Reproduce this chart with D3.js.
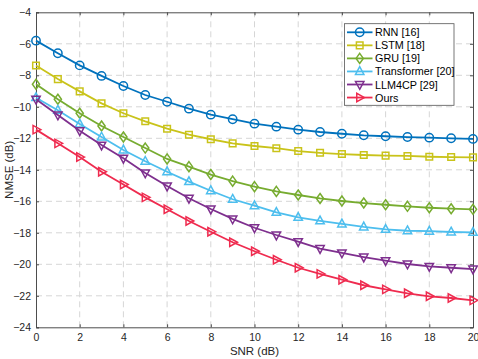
<!DOCTYPE html>
<html>
<head>
<meta charset="utf-8">
<script src="https://cdn.jsdelivr.net/npm/d3@7"></script>
<style>
  body { margin: 0; background: #fff; }
  text { font-family: "Liberation Sans", Arial, sans-serif; }
</style>
</head>
<body>
<div id="chart"></div>
<script>
const snr = d3.range(0, 21);
const rnn = [-5.8,-6.6,-7.37,-8.04,-8.68,-9.25,-9.68,-10.12,-10.5,-10.79,-11.07,-11.26,-11.45,-11.6,-11.71,-11.81,-11.87,-11.92,-11.96,-12.0,-12.04];
const lstm = [-7.38,-8.24,-9.02,-9.78,-10.41,-10.92,-11.39,-11.77,-12.06,-12.32,-12.49,-12.63,-12.81,-12.92,-13.0,-13.06,-13.1,-13.12,-13.17,-13.19,-13.21];
const gru = [-8.57,-9.52,-10.41,-11.22,-11.92,-12.62,-13.31,-13.8,-14.3,-14.72,-15.07,-15.37,-15.6,-15.82,-15.98,-16.11,-16.22,-16.32,-16.41,-16.47,-16.51];
const transformer = [-9.42,-10.22,-11.09,-11.92,-12.74,-13.46,-14.12,-14.75,-15.33,-15.87,-16.28,-16.7,-17.02,-17.24,-17.44,-17.63,-17.78,-17.87,-17.9,-17.95,-17.97];
const llm4cp = [-9.52,-10.52,-11.52,-12.43,-13.27,-14.2,-15.03,-15.81,-16.49,-17.12,-17.68,-18.14,-18.56,-19.0,-19.28,-19.54,-19.77,-19.98,-20.13,-20.22,-20.3];
const ours = [-11.45,-12.32,-13.19,-14.12,-14.93,-15.75,-16.51,-17.25,-17.93,-18.6,-19.17,-19.71,-20.22,-20.61,-20.98,-21.33,-21.59,-21.84,-22.03,-22.14,-22.29];

const names = ["RNN [16]", "LSTM [18]", "GRU [19]", "Transformer [20]", "LLM4CP [29]", "Ours"];
const colors = ["#0072BD", "#C9C31A", "#77AC30", "#4DBEEE", "#7E2F8E", "#EF2B4F"];
const markers = ["circle", "square", "diamond", "up", "down", "right"];
const allSeries = [rnn, lstm, gru, transformer, llm4cp, ours];
const xTicks = d3.range(0, 21, 2);
const yTicks = d3.range(-24, -3, 2);

const width = 478, height = 359;
const margin = {top: 12.3, right: 5, bottom: 31.7, left: 36};

let svg = d3.select("#chart")
  .append("svg")
    .attr("width", width)
    .attr("height", height);

let x = d3.scaleLinear().domain([0, 20]).range([margin.left, width - margin.right]);
let y = d3.scaleLinear().domain([-24, -4]).range([height - margin.bottom, margin.top]);

// grid
svg.append("g")
  .selectAll("line")
  .data(xTicks.slice(1, -1))
  .join("line")
    .attr("x1", d => x(d)).attr("x2", d => x(d))
    .attr("y1", y(-24)).attr("y2", y(-4))
    .attr("stroke", "#d6d6d6").attr("stroke-dasharray", "6,4");
svg.append("g")
  .selectAll("line")
  .data(yTicks.slice(1, -1))
  .join("line")
    .attr("x1", x(0)).attr("x2", x(20))
    .attr("y1", d => y(d)).attr("y2", d => y(d))
    .attr("stroke", "#d6d6d6").attr("stroke-dasharray", "6,4");

// axes
let xAxis = svg.append("g")
  .attr("transform", "translate(0," + y(-24) + ")")
  .call(d3.axisBottom(x).tickValues(xTicks).tickSize(-3).tickPadding(6));
let xAxisTop = svg.append("g")
  .attr("transform", "translate(0," + y(-4) + ")")
  .call(d3.axisTop(x).tickValues(xTicks).tickSize(-3).tickFormat(""));
let yAxis = svg.append("g")
  .attr("transform", "translate(" + x(0) + ",0)")
  .call(d3.axisLeft(y).tickValues(yTicks).tickSize(-3).tickPadding(5));
let yAxisRight = svg.append("g")
  .attr("transform", "translate(" + x(20) + ",0)")
  .call(d3.axisRight(y).tickValues(yTicks).tickSize(-3).tickFormat(""));

[xAxis, xAxisTop, yAxis, yAxisRight].forEach(a => {
  a.selectAll("path, line").attr("stroke", "#4d4d4d");
  a.selectAll("text").attr("fill", "#262626").attr("font-size", "10.5px")
    .style("font-family", "'Liberation Sans', Arial, sans-serif");
});

svg.append("text")
  .text("SNR (dB)")
  .attr("x", (x(0) + x(20)) / 2)
  .attr("y", height - 4)
  .attr("font-size", "11.5px")
  .attr("fill", "#262626")
  .attr("text-anchor", "middle");
svg.append("text")
  .text("NMSE (dB)")
  .attr("transform", "translate(13," + ((y(-4) + y(-24)) / 2) + ") rotate(-90)")
  .attr("font-size", "11.5px")
  .attr("fill", "#262626")
  .attr("text-anchor", "middle");

function markerPath(type) {
  const s = 4.2;
  if (type === "circle") return d3.symbol(d3.symbolCircle, 55)();
  if (type === "square") return "M" + (-3.3) + "," + (-3.3) + "h6.6v6.6h-6.6z";
  if (type === "diamond") return "M0," + (-s - 0.8) + "L" + (s - 0.6) + ",0L0," + (s + 0.8) + "L" + (-s + 0.6) + ",0Z";
  if (type === "up") return "M0," + (-s - 0.6) + "L" + s + "," + (s * 0.7) + "L" + (-s) + "," + (s * 0.7) + "Z";
  if (type === "down") return "M0," + (s + 0.6) + "L" + s + "," + (-s * 0.7) + "L" + (-s) + "," + (-s * 0.7) + "Z";
  return "M" + (s + 0.6) + ",0L" + (-s * 0.7) + "," + (-s) + "L" + (-s * 0.7) + "," + s + "Z";
}

let line = d3.line().x((d, i) => x(snr[i])).y(d => y(d));

allSeries.forEach((vals, k) => {
  let g = svg.append("g");
  g.append("path")
    .datum(vals)
    .attr("d", line)
    .attr("fill", "none")
    .attr("stroke", colors[k])
    .attr("stroke-width", 1.8);
  g.selectAll("path.m")
    .data(vals)
    .join("path")
      .attr("class", "m")
      .attr("d", markerPath(markers[k]))
      .attr("transform", (d, i) => "translate(" + x(snr[i]) + "," + y(d) + ")")
      .attr("fill", "none")
      .attr("stroke", colors[k])
      .attr("stroke-width", 1.5);
});

// legend
let legend = svg.append("g").attr("transform", "translate(344.5,23.7)");
legend.append("rect")
  .attr("width", 109.5).attr("height", 81.6)
  .attr("fill", "#fff").attr("stroke", "#555").attr("stroke-width", 0.8);
names.forEach((n, k) => {
  let row = legend.append("g").attr("transform", "translate(0," + (8.6 + k * 13.05) + ")");
  row.append("line")
    .attr("x1", 2.5).attr("x2", 28)
    .attr("stroke", colors[k]).attr("stroke-width", 1.8);
  row.append("path")
    .attr("d", markerPath(markers[k]))
    .attr("transform", "translate(15.2,0)")
    .attr("fill", "none").attr("stroke", colors[k]).attr("stroke-width", 1.5);
  row.append("text")
    .text(n)
    .attr("x", 30.5).attr("y", 4)
    .attr("font-size", "10.8px")
    .attr("fill", "#000");
});
</script>
</body>
</html>
